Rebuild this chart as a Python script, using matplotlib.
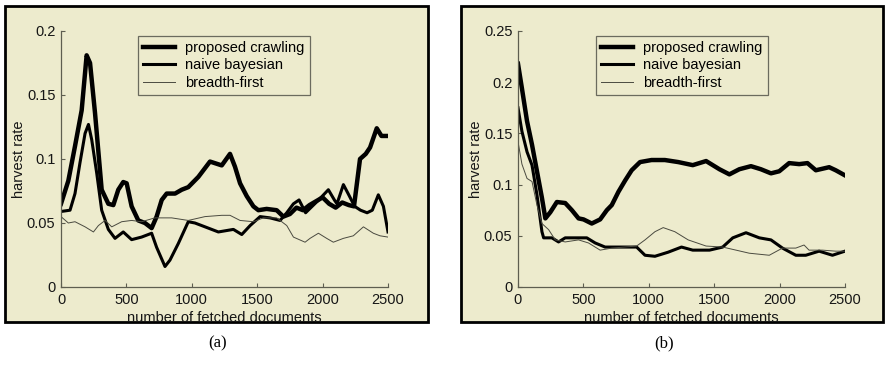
import matplotlib.pyplot as plt
from matplotlib.patches import Rectangle

# ---- panel (a) ----
a_prop_x = [0, 56, 107, 158, 196, 222, 260, 311, 362, 400, 438, 476, 502, 540, 591, 642, 693, 731, 770, 808,
            872, 923, 973, 1050, 1139, 1229, 1292, 1330, 1369, 1420, 1471, 1509, 1572, 1649, 1700, 1750, 1800,
            1850, 1900, 1950, 2000, 2050, 2100, 2150, 2200, 2240, 2286, 2330, 2363, 2414, 2450, 2500]
a_prop_y = [0.065, 0.083, 0.110, 0.138, 0.181, 0.175, 0.136, 0.076, 0.065, 0.064, 0.076, 0.082, 0.081, 0.063,
            0.052, 0.050, 0.046, 0.055, 0.068, 0.073, 0.073, 0.076, 0.078, 0.086, 0.098, 0.095, 0.104, 0.094,
            0.081, 0.071, 0.063, 0.060, 0.061, 0.060, 0.055, 0.057, 0.062, 0.060, 0.064, 0.067, 0.070, 0.065,
            0.062, 0.066, 0.064, 0.063, 0.100, 0.104, 0.109, 0.124, 0.118, 0.118]

a_naive_x = [0, 69, 107, 145, 184, 210, 235, 273, 311, 362, 413, 476, 540, 616, 693, 731, 795, 833, 897, 973,
             1024, 1101, 1203, 1318, 1382, 1446, 1522, 1598, 1675, 1726, 1777, 1820, 1870, 1920, 1970, 2044,
             2090, 2110, 2159, 2200, 2245, 2290, 2340, 2380, 2426, 2465, 2500]
a_naive_y = [0.059, 0.060, 0.073, 0.097, 0.120, 0.127, 0.115, 0.089, 0.060, 0.045, 0.038, 0.043, 0.037, 0.039,
             0.042, 0.031, 0.016, 0.021, 0.034, 0.051, 0.050, 0.047, 0.043, 0.045, 0.041, 0.048, 0.055, 0.054,
             0.052, 0.058, 0.065, 0.068, 0.058, 0.063, 0.068, 0.076, 0.068, 0.065, 0.080, 0.072, 0.063, 0.060,
             0.058, 0.060, 0.072, 0.063, 0.043]

a_bfs_x = [0, 56, 107, 184, 248, 286, 337, 388, 464, 540, 616, 718, 846, 973, 1101, 1229, 1292, 1369, 1471,
           1547, 1649, 1726, 1777, 1866, 1904, 1968, 2031, 2082, 2159, 2235, 2312, 2388, 2439, 2500]
a_bfs_y = [0.055, 0.050, 0.051, 0.047, 0.043, 0.048, 0.052, 0.047, 0.051, 0.052, 0.051, 0.054, 0.054, 0.052,
           0.055, 0.056, 0.056, 0.052, 0.051, 0.054, 0.054, 0.048, 0.039, 0.035, 0.038, 0.042, 0.038, 0.035,
           0.038, 0.040, 0.047, 0.042, 0.040, 0.039]

# ---- panel (b) ----
b_prop_x = [0, 30, 69, 107, 145, 183, 209, 247, 297, 361, 412, 463, 501, 564, 628, 679, 717, 768, 819, 869,
            933, 1021, 1123, 1225, 1336, 1438, 1540, 1616, 1692, 1781, 1857, 1934, 1997, 2073, 2150, 2213,
            2277, 2379, 2429, 2500]
b_prop_y = [0.218, 0.194, 0.162, 0.139, 0.113, 0.087, 0.067, 0.073, 0.083, 0.082, 0.075, 0.067, 0.066, 0.062,
            0.066, 0.075, 0.080, 0.093, 0.104, 0.114, 0.122, 0.124, 0.124, 0.122, 0.119, 0.123, 0.115, 0.110,
            0.115, 0.118, 0.115, 0.111, 0.113, 0.121, 0.120, 0.121, 0.114, 0.117, 0.114, 0.109]

b_naive_x = [0, 30, 69, 107, 145, 183, 196, 259, 310, 361, 437, 526, 590, 666, 768, 907, 971, 1047, 1148,
             1250, 1336, 1464, 1565, 1642, 1743, 1845, 1934, 2022, 2124, 2200, 2302, 2404, 2500]
b_naive_y = [0.175, 0.152, 0.132, 0.119, 0.090, 0.054, 0.048, 0.048, 0.044, 0.048, 0.048, 0.048, 0.043,
             0.039, 0.039, 0.039, 0.031, 0.030, 0.034, 0.039, 0.036, 0.036, 0.039, 0.048, 0.053, 0.048,
             0.046, 0.038, 0.031, 0.031, 0.035, 0.031, 0.035]

b_bfs_x = [0, 30, 69, 107, 145, 183, 234, 285, 361, 463, 539, 628, 717, 907, 971, 1047, 1110, 1199, 1301,
           1438, 1565, 1667, 1768, 1921, 2022, 2124, 2187, 2225, 2327, 2429, 2500]
b_bfs_y = [0.142, 0.120, 0.106, 0.103, 0.080, 0.062, 0.056, 0.046, 0.044, 0.046, 0.043, 0.036, 0.038,
           0.040, 0.046, 0.054, 0.058, 0.054, 0.046, 0.040, 0.039, 0.036, 0.033, 0.031, 0.038, 0.038,
           0.041, 0.036, 0.036, 0.035, 0.035]

labels = ['proposed crawling', 'naive bayesian', 'breadth-first']
xticks = [0, 500, 1000, 1500, 2000, 2500]
a_yticks = [0, 0.05, 0.1, 0.15, 0.2]
a_yticklabels = ['0', '0.05', '0.1', '0.15', '0.2']
b_yticks = [0, 0.05, 0.1, 0.15, 0.2, 0.25]
b_yticklabels = ['0', '0.05', '0.1', '0.15', '0.2', '0.25']

cream = '#edebcd'
axcol = '#5e5e50'
txtcol = '#161616'
plt.rcParams['font.family'] = ['Liberation Sans', 'DejaVu Sans']

W, H = 885, 368
fig = plt.figure(figsize=(W / 100, H / 100), dpi=100)

# cream framed boxes behind each panel
for x0, x1 in [(5, 428), (461, 883)]:
    fig.patches.append(Rectangle((x0 / W, 1 - 322 / H), (x1 - x0) / W, (322 - 6) / H,
                                 transform=fig.transFigure, facecolor=cream,
                                 edgecolor='black', linewidth=2, zorder=-10))


def panel(left_px, series, yticks, yticklabels, ymax, leg_x, ylab_x):
    ax = fig.add_axes([left_px / W, 1 - 287 / H, 327 / W, 256 / H])
    ax.set_zorder(5)
    ax.set_facecolor('none')
    (px, py), (nx, ny), (bx, by) = series
    ax.plot(px, py, color='black', lw=3.2, label=labels[0])
    ax.plot(nx, ny, color='black', lw=2.2, label=labels[1])
    ax.plot(bx, by, color='#4a4a40', lw=0.7, label=labels[2])
    ax.set_xlim(0, 2500)
    ax.set_ylim(0, ymax)
    ax.set_xticks(xticks)
    ax.set_yticks(yticks)
    ax.set_yticklabels(yticklabels)
    for s in ['top', 'right']:
        ax.spines[s].set_visible(False)
    for s in ['left', 'bottom']:
        ax.spines[s].set_color(axcol)
        ax.spines[s].set_linewidth(0.9)
    ax.tick_params(direction='in', length=3, width=0.8, color=axcol, labelsize=10.5,
                   labelcolor=txtcol)
    ax.tick_params(axis='x', pad=4)
    ax.tick_params(axis='y', pad=4)
    ax.set_xlabel('number of fetched documents', fontsize=10.5, color=txtcol)
    ax.xaxis.set_label_coords(0.5, -0.093)
    ax.set_ylabel('harvest rate', fontsize=10.5, color=txtcol)
    ax.yaxis.set_label_coords(ylab_x, 0.5)
    leg = ax.legend(loc='upper left', bbox_to_anchor=(leg_x, 0.98), borderaxespad=0,
                    fancybox=False, fontsize=10.5, handlelength=2.2, labelspacing=0.22,
                    borderpad=0.35, handletextpad=0.7, framealpha=1)
    leg.get_frame().set_facecolor(cream)
    leg.get_frame().set_edgecolor('#6b6b5e')
    leg.get_frame().set_linewidth(0.9)
    return ax


panel(61, [(a_prop_x, a_prop_y), (a_naive_x, a_naive_y), (a_bfs_x, a_bfs_y)],
      a_yticks, a_yticklabels, 0.2, 0.235, -0.106)
panel(518, [(b_prop_x, b_prop_y), (b_naive_x, b_naive_y), (b_bfs_x, b_bfs_y)],
      b_yticks, b_yticklabels, 0.25, 0.238, -0.108)

fig.text(218 / W, 1 - 343 / H, '(a)', ha='center', va='center', fontsize=12,
         family=['Liberation Serif', 'DejaVu Serif'])
fig.text(664 / W, 1 - 343 / H, '(b)', ha='center', va='center', fontsize=12,
         family=['Liberation Serif', 'DejaVu Serif'])

fig.savefig('out.png', dpi=100)
